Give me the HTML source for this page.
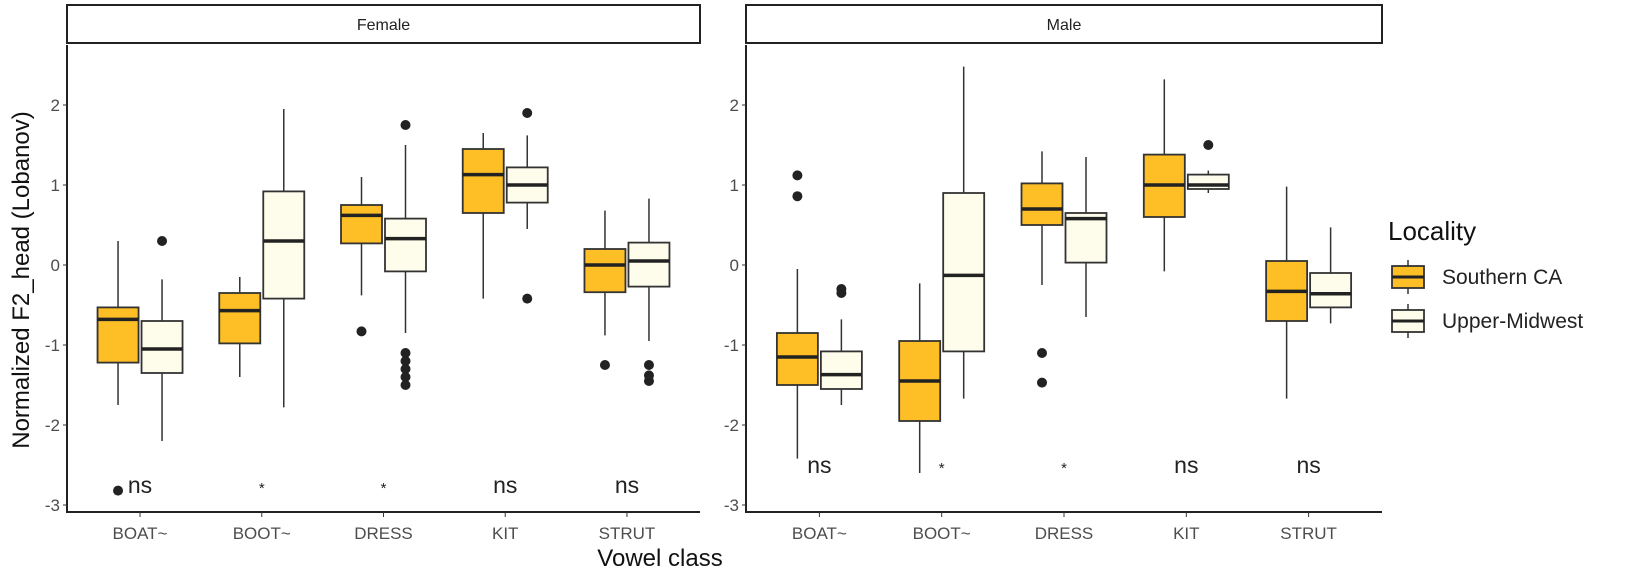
<!DOCTYPE html>
<html><head><meta charset="utf-8"><style>
body{margin:0;background:#fff;}
svg{display:block;font-family:"Liberation Sans",sans-serif;}
</style></head><body>
<svg id="chart" width="1625" height="572"></svg>
<script>
const categories=["BOAT~","BOOT~","DRESS","KIT","STRUT"];
const panels=["Female","Male"];
const groups=["Southern CA","Upper-Midwest"];
const colors=["#FDBF25","#FEFDEC"];
// [lowWhisker,Q1,median,Q3,highWhisker]
const femaleSC=[[-1.75,-1.22,-0.68,-0.53,0.3],[-1.4,-0.98,-0.57,-0.35,-0.15],[-0.38,0.27,0.62,0.75,1.1],[-0.42,0.65,1.13,1.45,1.65],[-0.88,-0.34,0.0,0.2,0.68]];
const femaleUM=[[-2.2,-1.35,-1.05,-0.7,-0.18],[-1.78,-0.42,0.3,0.92,1.95],[-0.85,-0.08,0.33,0.58,1.5],[0.45,0.78,1.0,1.22,1.62],[-0.95,-0.27,0.05,0.28,0.83]];
const maleSC=[[-2.42,-1.5,-1.15,-0.85,-0.05],[-2.6,-1.95,-1.45,-0.95,-0.23],[-0.25,0.5,0.7,1.02,1.42],[-0.08,0.6,1.0,1.38,2.32],[-1.67,-0.7,-0.33,0.05,0.98]];
const maleUM=[[-1.75,-1.55,-1.37,-1.08,-0.68],[-1.67,-1.08,-0.13,0.9,2.48],[-0.65,0.03,0.58,0.65,1.35],[0.9,0.95,1.0,1.13,1.18],[-0.73,-0.53,-0.36,-0.1,0.47]];
const femaleSCOut=[[-2.82],[],[-0.83],[],[-1.25]];
const femaleUMOut=[[0.3],[],[1.75,-1.1,-1.2,-1.3,-1.4,-1.5],[1.9,-0.42],[-1.25,-1.38,-1.45]];
const maleSCOut=[[1.12,0.86],[],[-1.1,-1.47],[],[]];
const maleUMOut=[[-0.3,-0.35],[],[],[1.5],[]];
const femaleSig=["ns","*","*","ns","ns"];
const maleSig=["ns","*","*","ns","ns"];
const femaleSigY=-2.75, maleSigY=-2.5;
const yTicks=[2,1,0,-1,-2,-3];

const NS="http://www.w3.org/2000/svg";
const svg=document.getElementById("chart");
function mk(tag,attrs,parent){const e=document.createElementNS(NS,tag);for(const k in attrs)e.setAttribute(k,attrs[k]);(parent||svg).appendChild(e);return e;}
const panelX=[[67,700],[746,1382]];
const plotTop=45,plotBottom=512;
function y(v){return 265-80*v;}
function xCat(p,i){const [a,b]=panelX[p];const step=(b-a)/5.2;return a+step*(0.6+i);}

const data=[[femaleSC,femaleUM],[maleSC,maleUM]];
const outs=[[femaleSCOut,femaleUMOut],[maleSCOut,maleUMOut]];
const sigs=[femaleSig,maleSig];
const sigYs=[femaleSigY,maleSigY];

panels.forEach((pn,p)=>{
  const [a,b]=panelX[p];
  const strip=mk("rect",{x:a,y:5,width:b-a,height:38,fill:"#fff",stroke:"#222","stroke-width":2});
  
  
  const st=mk("text",{x:(a+b)/2,y:30,"text-anchor":"middle","font-size":16,fill:"#222"});
  st.textContent=pn;
  
  
  const ya=mk("line",{x1:a,y1:plotTop,x2:a,y2:plotBottom,stroke:"#222","stroke-width":2});
  
  
  const xa=mk("line",{x1:a-1,y1:plotBottom,x2:b,y2:plotBottom,stroke:"#222","stroke-width":2});
  
  
  yTicks.forEach(t=>{
    mk("line",{x1:a-4,y1:y(t),x2:a,y2:y(t),stroke:"#333","stroke-width":1});
    const tl=mk("text",{x:a-7,y:y(t)+6,"text-anchor":"end","font-size":17,fill:"#4d4d4d"});
    tl.textContent=t;
    
    
  });
  categories.forEach((c,i)=>{
    const cx=xCat(p,i);
    mk("line",{x1:cx,y1:plotBottom,x2:cx,y2:plotBottom+5,stroke:"#333","stroke-width":1});
    const xl=mk("text",{x:cx,y:plotBottom+27,"text-anchor":"middle","font-size":17,fill:"#4d4d4d"});
    xl.textContent=c;
    
    
    [0,1].forEach(g=>{
      const d=data[p][g][i];
      const bx=cx+(g===0?-22:22);
      const w=41;
      const grp=mk("g",{});
      
      
      mk("line",{x1:bx,y1:y(d[4]),x2:bx,y2:y(d[0]),stroke:"#333","stroke-width":1.5},grp);
      mk("rect",{x:bx-w/2,y:y(d[3]),width:w,height:y(d[1])-y(d[3]),fill:colors[g],stroke:"#333","stroke-width":1.8},grp);
      mk("line",{x1:bx-w/2,y1:y(d[2]),x2:bx+w/2,y2:y(d[2]),stroke:"#222","stroke-width":3.5},grp);
      outs[p][g][i].forEach(o=>{
        const pt=mk("circle",{cx:bx,cy:y(o),r:5,fill:"#222"},grp);
        
        
      });
    });
    const s=sigs[p][i];
    const sl=mk("text",{x:cx,y:y(sigYs[p])+8,"text-anchor":"middle","font-size":s==="*"?15:23,fill:"#222"});
    sl.textContent=s;
    
    
  });
});
const xt=mk("text",{x:660,y:566,"text-anchor":"middle","font-size":24,fill:"#111"});
xt.textContent="Vowel class";


const yt=mk("text",{x:0,y:0,"text-anchor":"middle","font-size":24,fill:"#111",transform:"translate(29,280) rotate(-90)"});
yt.textContent="Normalized F2_head (Lobanov)";


const lt=mk("text",{x:1388,y:240,"font-size":26,fill:"#111"});
lt.textContent="Locality";


groups.forEach((gname,g)=>{
  const ky=277+g*44;
  const lg=mk("g",{});
  
  
  mk("line",{x1:1408,y1:ky-17,x2:1408,y2:ky+17,stroke:"#333","stroke-width":1.5},lg);
  mk("rect",{x:1392,y:ky-11,width:32,height:22,fill:colors[g],stroke:"#333","stroke-width":1.8},lg);
  mk("line",{x1:1392,y1:ky,x2:1424,y2:ky,stroke:"#222","stroke-width":3},lg);
  const tx=mk("text",{x:1442,y:ky+7,"font-size":21,fill:"#222"},lg);
  tx.textContent=gname;
});
</script>
</body></html>
